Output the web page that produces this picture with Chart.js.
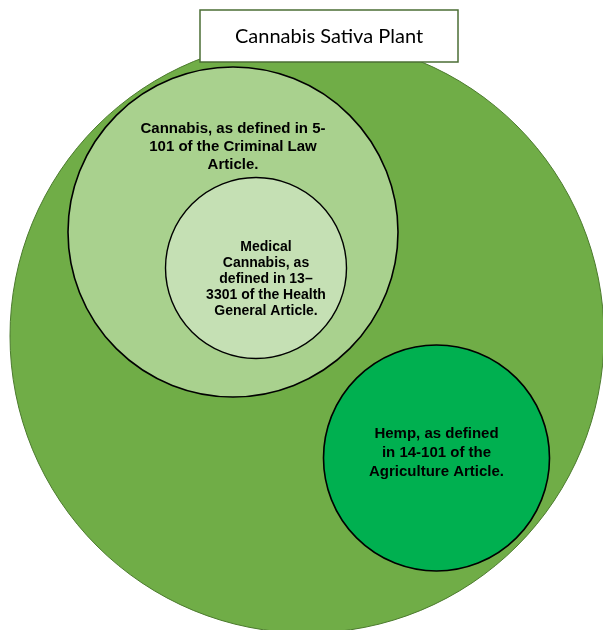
<!DOCTYPE html>
<html>
<head>
<meta charset="utf-8">
<script src="https://cdn.jsdelivr.net/npm/chart.js@4/dist/chart.umd.min.js"></script>
<style>
  html, body { margin: 0; padding: 0; background: #fff; }
  #wrap { position: relative; width: 603px; height: 630px; }
</style>
</head>
<body>
<div id="wrap"><canvas id="chart"></canvas></div>
<script>
// Diagramme des ensembles : chaque cercle est un point "bubble",
// le rayon est donné dans les unités de l'axe x.

const circleNames = ["Cannabis Sativa Plant", "Cannabis", "Medical Cannabis", "Hemp"];
const centerX = [307, 233, 256, 436.5];
const centerY = [336, 232, 268, 458];
const radii = [297, 165, 90.5, 113];

const circleFill = ["#70ad47", "#a9d18e", "#c5e0b4", "#00b050"];
const circleLine = ["#4b7a2d", "#000000", "#000000", "#000000"];

const titleText = "Cannabis Sativa Plant";

const labelLines = [
  ["Cannabis, as defined in 5-", "101 of the Criminal Law", "Article."],
  ["Medical", "Cannabis, as", "defined in 13\u2013", "3301 of the Health", "General Article."],
  ["Hemp, as defined", "in 14-101 of the", "Agriculture Article."],
];

// où placer les textes (centre du bloc) et la boîte de titre
const labelAt = [
  { x: 233, y: 147, size: 15, lh: 18 },
  { x: 266, y: 279, size: 14, lh: 16 },
  { x: 436.5, y: 453, size: 15, lh: 19 },
];
const titleBox = { x0: 200, x1: 458, y0: 10, y1: 62 };

const points = centerX.map((x, i) => ({ x, y: centerY[i], size: radii[i], name: circleNames[i] }));

// r (pixels) recalculé depuis l'échelle x après chaque mise en page
const radiusPlugin = {
  id: "radius",
  afterLayout(chart) {
    const s = chart.scales.x;
    chart.data.datasets[0].data.forEach((p) => {
      p.r = s.getPixelForValue(p.size) - s.getPixelForValue(0);
    });
  },
};

const labelsPlugin = {
  id: "labels",
  afterDatasetsDraw(chart) {
    const { ctx, scales } = chart;
    const sx = scales.x, sy = scales.y;
    ctx.save();
    ctx.fillStyle = "#000";
    ctx.textAlign = "center";
    ctx.textBaseline = "middle";
    labelLines.forEach((lines, i) => {
      const a = labelAt[i];
      ctx.font = `bold ${a.size}px "Liberation Sans", Arial, sans-serif`;
      const px = sx.getPixelForValue(a.x);
      const top = sy.getPixelForValue(a.y) - ((lines.length - 1) * a.lh) / 2;
      lines.forEach((t, k) => ctx.fillText(t, px, top + k * a.lh));
    });

    // boîte du titre
    const x0 = sx.getPixelForValue(titleBox.x0), x1 = sx.getPixelForValue(titleBox.x1);
    const y0 = sy.getPixelForValue(titleBox.y0), y1 = sy.getPixelForValue(titleBox.y1);
    ctx.fillStyle = "#fff";
    ctx.fillRect(x0, y0, x1 - x0, y1 - y0);
    ctx.strokeStyle = "#4b6e35";
    ctx.lineWidth = 1.5;
    ctx.strokeRect(x0, y0, x1 - x0, y1 - y0);
    ctx.fillStyle = "#000";
    ctx.font = '20px Lato, "Open Sans", sans-serif';
    ctx.fillText(titleText, (x0 + x1) / 2, (y0 + y1) / 2 + 1);
    ctx.restore();
  },
};

const chart = new Chart(document.getElementById("chart"), {
  type: "bubble",
  data: {
    datasets: [
      {
        data: points,
        backgroundColor: circleFill,
        borderColor: circleLine,
        borderWidth: [1, 1.6, 1.4, 1.6],
        hoverRadius: 0,
        hoverBorderWidth: 0,
        clip: false,
      },
    ],
  },
  options: {
    responsive: true,
    maintainAspectRatio: false,
    animation: false,
    events: [],
    // pas de marge automatique autour des bulles
    layout: { autoPadding: false, padding: 0 },
    plugins: { legend: { display: false }, tooltip: { enabled: false } },
    scales: {
      x: { type: "linear", min: 0, max: 603, display: false },
      y: { type: "linear", min: 0, max: 630, reverse: true, display: false },
    },
  },
  plugins: [radiusPlugin, labelsPlugin],
});
chart.update();
</script>
</body>
</html>
